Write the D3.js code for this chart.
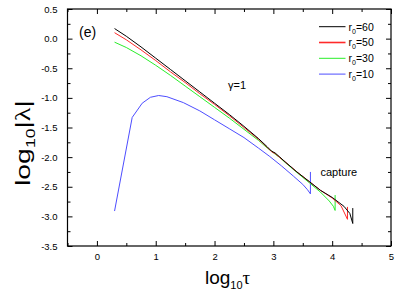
<!DOCTYPE html>
<html>
<head>
<meta charset="utf-8">
<script src="https://cdn.jsdelivr.net/npm/d3@7"></script>
<style>
  body { margin: 0; background: #fff; }
  svg text { font-family: "Liberation Sans", Arial, sans-serif; }
</style>
</head>
<body>
<div id="chart"></div>
<script>
// data: [log10 tau, log10 |lambda|]
var r60 = [[0.30,0.17],[0.5,0.04],[0.75,-0.14],[1.0,-0.33],[1.25,-0.52],[1.5,-0.71],[1.75,-0.90],[2.0,-1.09],[2.25,-1.28],[2.5,-1.48],[2.75,-1.69],[2.9,-1.83],[2.97,-1.90],[3.03,-1.93],[3.1,-1.99],[3.2,-2.08],[3.4,-2.25],[3.62,-2.42],[3.8,-2.56],[4.0,-2.68],[4.2,-2.83],[4.3,-2.95],[4.35,-3.12],[4.35,-2.86]];
var r50 = [[0.30,0.10],[0.5,-0.02],[0.75,-0.19],[1.0,-0.37],[1.25,-0.56],[1.5,-0.74],[1.75,-0.93],[2.0,-1.11],[2.25,-1.30],[2.5,-1.50],[2.75,-1.70],[2.9,-1.84],[2.97,-1.91],[3.03,-1.94],[3.1,-2.00],[3.2,-2.08],[3.4,-2.25],[3.62,-2.42],[3.8,-2.56],[4.0,-2.69],[4.15,-2.82],[4.26,-3.05],[4.26,-2.84]];
var r30 = [[0.30,-0.06],[0.5,-0.15],[0.75,-0.29],[1.0,-0.45],[1.25,-0.62],[1.5,-0.80],[1.75,-0.98],[2.0,-1.16],[2.25,-1.34],[2.5,-1.53],[2.75,-1.72],[2.9,-1.85],[2.97,-1.90],[3.03,-1.95],[3.1,-2.00],[3.2,-2.09],[3.4,-2.26],[3.62,-2.44],[3.8,-2.59],[3.95,-2.74],[4.02,-2.83],[4.05,-2.90],[4.05,-2.64]];
var r10 = [[0.30,-2.91],[0.60,-1.33],[0.77,-1.09],[0.91,-0.99],[1.05,-0.96],[1.19,-0.98],[1.47,-1.08],[1.75,-1.22],[2.0,-1.37],[2.25,-1.52],[2.5,-1.67],[2.75,-1.85],[2.94,-1.99],[3.14,-2.15],[3.34,-2.32],[3.5,-2.46],[3.58,-2.55],[3.63,-2.62],[3.63,-2.25]];

var seriesNames = ['60', '50', '30', '10'];
var seriesColors = ['#000000', '#ff2a2a', '#2aee2a', '#4d4dff'];
var seriesData = [r60, r50, r30, r10];

var xTicks = [0, 1, 2, 3, 4, 5];
var xMinor = [-0.5, 0.5, 1.5, 2.5, 3.5, 4.5];
var yTicks = [0.5, 0.0, -0.5, -1.0, -1.5, -2.0, -2.5, -3.0, -3.5];
var yMinor = [0.25, -0.25, -0.75, -1.25, -1.75, -2.25, -2.75, -3.25];

var width = 399, height = 297;
var mLeft = 67.5, mRight = 391, mTop = 9, mBottom = 246;

var svg = d3.select('#chart').append('svg')
  .attr('width', width)
  .attr('height', height);

var x = d3.scaleLinear().domain([-0.5, 5]).range([mLeft, mRight]);
var y = d3.scaleLinear().domain([-3.5, 0.5]).range([mBottom, mTop]);

function styleAxis(g) {
  g.select('.domain').remove();
  g.selectAll('line').attr('stroke', '#000').attr('stroke-width', 1);
  g.selectAll('text').attr('font-size', '9.5px').attr('fill', '#000')
    .attr('font-family', '"Liberation Sans", Arial, sans-serif');
}

// bottom
svg.append('g').attr('transform', 'translate(0,' + mBottom + ')')
  .call(d3.axisBottom(x).tickValues(xTicks).tickSize(-5).tickPadding(7).tickFormat(d3.format('d')))
  .call(styleAxis);
svg.append('g').attr('transform', 'translate(0,' + mBottom + ')')
  .call(d3.axisBottom(x).tickValues(xMinor).tickSize(-3).tickFormat(''))
  .call(styleAxis);
// top
svg.append('g').attr('transform', 'translate(0,' + mTop + ')')
  .call(d3.axisTop(x).tickValues(xTicks).tickSize(-5).tickFormat(''))
  .call(styleAxis);
svg.append('g').attr('transform', 'translate(0,' + mTop + ')')
  .call(d3.axisTop(x).tickValues(xMinor).tickSize(-3).tickFormat(''))
  .call(styleAxis);
// left
svg.append('g').attr('transform', 'translate(' + mLeft + ',0)')
  .call(d3.axisLeft(y).tickValues(yTicks).tickSize(-5).tickPadding(10).tickFormat(d3.format('.1f')))
  .call(styleAxis);
svg.append('g').attr('transform', 'translate(' + mLeft + ',0)')
  .call(d3.axisLeft(y).tickValues(yMinor).tickSize(-3).tickFormat(''))
  .call(styleAxis);
// right
svg.append('g').attr('transform', 'translate(' + mRight + ',0)')
  .call(d3.axisRight(y).tickValues(yTicks).tickSize(-5).tickFormat(''))
  .call(styleAxis);
svg.append('g').attr('transform', 'translate(' + mRight + ',0)')
  .call(d3.axisRight(y).tickValues(yMinor).tickSize(-3).tickFormat(''))
  .call(styleAxis);

// minus sign like the original (hyphen)
svg.selectAll('text').each(function () {
  var t = d3.select(this);
  t.text(t.text().replace('\u2212', '-'));
});

// frame
svg.append('rect')
  .attr('x', mLeft).attr('y', mTop)
  .attr('width', mRight - mLeft).attr('height', mBottom - mTop)
  .attr('fill', 'none').attr('stroke', '#000').attr('stroke-width', 1.2);

// curves
var line = d3.line()
  .x(function (d) { return x(d[0]); })
  .y(function (d) { return y(d[1]); });

var plot = svg.append('g');
for (var i = seriesData.length - 1; i >= 0; i--) {
  plot.append('path')
    .datum(seriesData[i])
    .attr('d', line)
    .attr('fill', 'none')
    .attr('stroke', seriesColors[i])
    .attr('stroke-width', 1);
}

// legend
var legend = svg.append('g');
for (var k = 0; k < seriesNames.length; k++) {
  var ly = 26.7 + k * 15.8;
  legend.append('line')
    .attr('x1', 319).attr('x2', 345.5)
    .attr('y1', ly).attr('y2', ly)
    .attr('stroke', seriesColors[k]).attr('stroke-width', k == 1 ? 1.6 : 1);
  var lt = legend.append('text')
    .attr('x', 348.5).attr('y', ly + 3.8)
    .attr('font-size', '10.5px').attr('fill', '#000');
  lt.append('tspan').text('r');
  lt.append('tspan').attr('dy', 3).attr('font-size', '7px').text('0');
  lt.append('tspan').attr('dy', -3).text('=' + seriesNames[k]);
}

// annotations
svg.append('text')
  .attr('x', 79).attr('y', 36.5)
  .attr('font-size', '14px').text('(e)');

svg.append('text')
  .attr('x', 228).attr('y', 89)
  .attr('font-family', '"Liberation Serif", "Times New Roman", serif')
  .attr('font-size', '11px').text('\u03b3=1');

svg.append('text')
  .attr('x', 320.5).attr('y', 175.5)
  .attr('font-size', '11px').text('capture');

// axis titles
var xt = svg.append('text')
  .attr('x', 205).attr('y', 284)
  .attr('font-size', '19px');
xt.append('tspan').text('log');
xt.append('tspan').attr('dy', 5).attr('font-size', '11px').text('10');
xt.append('tspan').attr('dy', -5)
  .attr('font-family', '"Liberation Serif", "Times New Roman", serif')
  .attr('font-size', '19px').text('\u03c4');

var yt = svg.append('text')
  .attr('transform', 'translate(30,143) rotate(-90)')
  .attr('text-anchor', 'middle')
  .attr('font-size', '21px')
  .attr('textLength', 86)
  .attr('lengthAdjust', 'spacingAndGlyphs');
yt.append('tspan').text('log');
yt.append('tspan').attr('dy', 5).attr('font-size', '13px').text('10');
yt.append('tspan').attr('dy', -5).text('|');
yt.append('tspan')
  .attr('font-family', '"Liberation Serif", "Times New Roman", serif')
  .text('\u03bb');
yt.append('tspan').text('|');
</script>
</body>
</html>
